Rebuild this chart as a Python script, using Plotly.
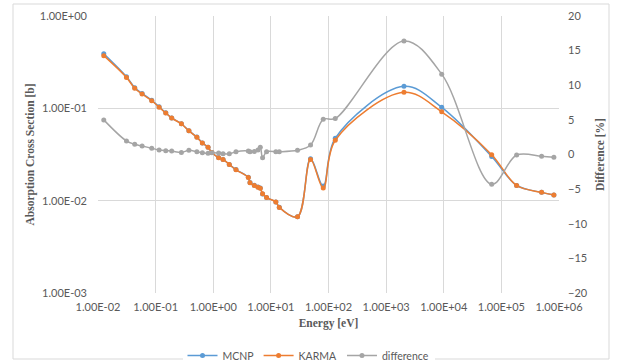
import plotly.graph_objects as go

energy = [0.0126, 0.0312, 0.0434, 0.0583, 0.0856, 0.115, 0.150, 0.190, 0.280, 0.378,
          0.52, 0.647, 0.812, 0.946, 1.24, 1.48, 1.90, 2.48, 4.06, 4.34,
          5.16, 5.97, 6.55, 7.18, 8.42, 12.2, 14.0, 29.0, 48.8, 81,
          131, 2040, 9220, 67900, 184000, 499000, 815000]

mcnp = [0.390, 0.220, 0.167, 0.145, 0.122, 0.104, 0.0894, 0.0788, 0.0681, 0.0573,
        0.0488, 0.0422, 0.0379, 0.0333, 0.0293, 0.0280, 0.0247, 0.0217, 0.0179, 0.0157,
        0.0147, 0.0141, 0.0137, 0.0118, 0.0108, 0.0097, 0.00848, 0.0067, 0.0284, 0.0144,
        0.0474, 0.173, 0.1025, 0.0301, 0.0146, 0.0123, 0.0115]

karma = [0.372, 0.216, 0.165, 0.143, 0.121, 0.103, 0.0889, 0.0784, 0.0679, 0.0570,
         0.0486, 0.0421, 0.0378, 0.0332, 0.0292, 0.0280, 0.0247, 0.0216, 0.0178, 0.0156,
         0.0146, 0.0140, 0.0136, 0.0119, 0.0108, 0.0097, 0.00845, 0.0067, 0.0280, 0.0137,
         0.0451, 0.149, 0.0918, 0.0315, 0.0146, 0.0123, 0.0115]

difference = [5.0, 1.95, 1.47, 1.23, 0.9, 0.65, 0.55, 0.5, 0.3, 0.6,
              0.4, 0.25, 0.17, 0.25, 0.2, 0.1, 0.1, 0.4, 0.5, 0.4,
              0.45, 0.65, 1.04, -0.46, 0.4, 0.4, 0.4, 0.6, 1.37, 5.08,
              5.2, 16.4, 11.6, -4.3, -0.07, -0.26, -0.4]

x_tickvals = [1e-2, 1e-1, 1e0, 1e1, 1e2, 1e3, 1e4, 1e5, 1e6]
x_ticktext = ["1.00E-02", "1.00E-01", "1.00E+00", "1.00E+01", "1.00E+02",
              "1.00E+03", "1.00E+04", "1.00E+05", "1.00E+06"]
y_tickvals = [1e-3, 1e-2, 1e-1, 1e0]
y_ticktext = ["1.00E-03", "1.00E-02", "1.00E-01", "1.00E+00"]
y2_tickvals = [-20, -15, -10, -5, 0, 5, 10, 15, 20]

BLUE = "#5B9BD5"
ORANGE = "#ED7D31"
GRAY = "#A5A5A5"
TXT = "#595959"
GRID = "#D9D9D9"

fig = go.Figure()
fig.add_trace(go.Scatter(x=energy, y=mcnp, name="MCNP", mode="lines+markers",
                         line=dict(color=BLUE, width=1.5, shape="spline"),
                         marker=dict(color=BLUE, size=5)))
fig.add_trace(go.Scatter(x=energy, y=karma, name="KARMA", mode="lines+markers",
                         line=dict(color=ORANGE, width=1.5, shape="spline"),
                         marker=dict(color=ORANGE, size=5)))
fig.add_trace(go.Scatter(x=energy, y=difference, name="difference", mode="lines+markers",
                         yaxis="y2",
                         line=dict(color=GRAY, width=1.5, shape="spline"),
                         marker=dict(color=GRAY, size=5)))

tickfont = dict(family="Lato", size=11, color=TXT)
titlefont = dict(family="Liberation Serif", size=11.5, color=TXT, weight="bold")

fig.update_layout(
    width=617, height=362,
    margin=dict(l=98, r=58, t=16, b=69, autoexpand=False),
    paper_bgcolor="white", plot_bgcolor="white",
    showlegend=True,
    legend=dict(orientation="h", xref="container", yref="container",
                x=0.5, xanchor="center", y=1 - 341 / 362, yanchor="top",
                font=dict(family="Lato", size=10.5, color=TXT),
                itemwidth=30, tracegroupgap=0),
    xaxis=dict(type="log", range=[-2, 6], tickvals=x_tickvals, ticktext=x_ticktext,
               showgrid=True, gridcolor=GRID, gridwidth=1, zeroline=False,
               showline=False, ticks="", tickfont=tickfont, ticklabelstandoff=6,
               title=dict(text="Energy [eV]", font=titlefont, standoff=6)),
    yaxis=dict(type="log", range=[-3, 0], tickvals=y_tickvals, ticktext=y_ticktext,
               showgrid=True, gridcolor=GRID, gridwidth=1, zeroline=False,
               showline=False, ticks="", tickfont=tickfont, ticklabelstandoff=10,
               title=dict(text="Absorption Cross Section [b]", font=titlefont, standoff=2)),
    yaxis2=dict(overlaying="y", side="right", range=[-20, 20], tickvals=y2_tickvals,
                showgrid=False, zeroline=False, showline=False, ticks="",
                tickfont=tickfont, ticklabelstandoff=8,
                title=dict(text="Difference [%]", font=titlefont, standoff=9)),
    shapes=[dict(type="rect", xref="paper", yref="paper",
                 x0=(13 - 98) / 461, x1=(609 - 98) / 461,
                 y0=(293 - 359) / 277, y1=(293 - 4) / 277,
                 line=dict(color=GRID, width=1), fillcolor="rgba(0,0,0,0)",
                 layer="below")],
)

fig.write_html("out.html", config={"displayModeBar": False},
               post_script="document.body.style.margin='0';document.body.style.overflow='hidden';")
